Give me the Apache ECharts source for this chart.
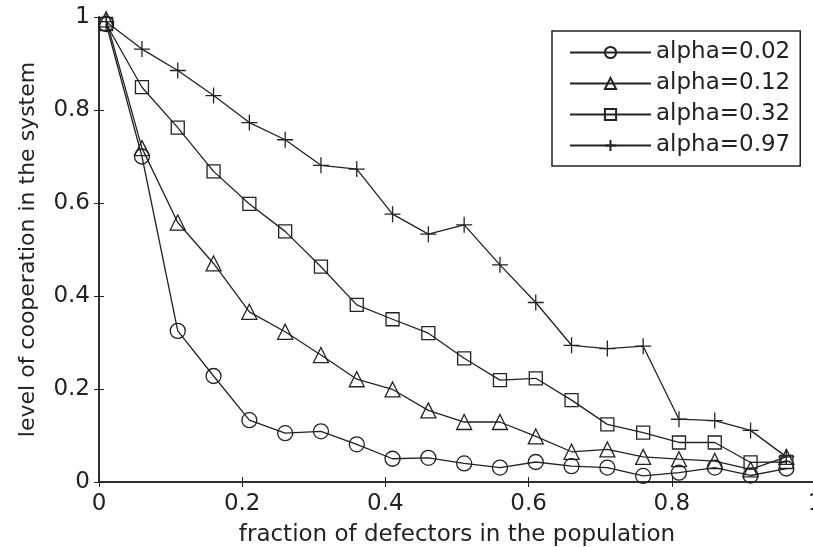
<!DOCTYPE html>
<html>
<head>
<meta charset="utf-8">
<script src="https://cdn.jsdelivr.net/npm/echarts@6/dist/echarts.min.js"></script>
<style>
  html, body { margin: 0; padding: 0; background: #fff; }
  #chart { width: 813px; height: 547px; }
</style>
</head>
<body>
<div id="chart"></div>
<script>
// fraction of defectors (x)
const fractions = [0.01, 0.06, 0.11, 0.16, 0.21, 0.26, 0.31, 0.36, 0.41, 0.46,
  0.51, 0.56, 0.61, 0.66, 0.71, 0.76, 0.81, 0.86, 0.91, 0.96]

const alpha002 = [0.985, 0.700, 0.325, 0.228, 0.133, 0.105, 0.109, 0.081, 0.050, 0.052,
  0.040, 0.031, 0.043, 0.034, 0.031, 0.013, 0.020, 0.031, 0.014, 0.029]
const alpha012 = [0.995, 0.718, 0.558, 0.470, 0.366, 0.323, 0.273, 0.221, 0.199, 0.154,
  0.129, 0.129, 0.098, 0.065, 0.070, 0.054, 0.049, 0.045, 0.027, 0.054]
const alpha032 = [0.985, 0.849, 0.762, 0.668, 0.598, 0.539, 0.463, 0.381, 0.350, 0.320,
  0.266, 0.219, 0.223, 0.176, 0.124, 0.106, 0.085, 0.085, 0.042, 0.043]
const alpha097 = [0.99, 0.931, 0.885, 0.831, 0.773, 0.736, 0.681, 0.673, 0.576, 0.533,
  0.553, 0.467, 0.386, 0.294, 0.287, 0.292, 0.135, 0.132, 0.111, 0.054]

const seriesNames = ['alpha=0.02', 'alpha=0.12', 'alpha=0.32', 'alpha=0.97']

const ink = '#222'
const font = 'DejaVu Sans'
const plusPath = 'path://M0,-10L0,10M-10,0L10,0'

function pairs(ys) {
  return fractions.map((x, i) => [x, ys[i]])
}

function makeSeries(name, ys, symbol, size, lineWidth) {
  return {
    name: name,
    type: 'line',
    data: pairs(ys),
    symbol: symbol,
    symbolSize: size,
    showAllSymbol: true,
    lineStyle: { color: ink, width: lineWidth },
    itemStyle: { color: 'rgba(255,255,255,0)', borderColor: ink, borderWidth: 1.3 },
    emphasis: { disabled: true },
    animation: false
  }
}

const chart = echarts.init(document.getElementById('chart'))

chart.setOption({
  backgroundColor: '#fff',
  textStyle: { fontFamily: font, color: ink },
  grid: { left: 99, top: 17, width: 716, height: 465, outerBoundsMode: 'none', containLabel: false },
  legend: {
    orient: 'vertical',
    left: 552,
    top: 31,
    data: seriesNames,
    itemWidth: 81,
    itemHeight: 14,
    itemGap: 6,
    padding: [9, 10, 8, 17],
    borderColor: ink,
    borderWidth: 1.5,
    backgroundColor: '#fff',
    textStyle: { fontFamily: font, fontSize: 23, color: ink, lineHeight: 25 }
  },
  xAxis: [{
    type: 'value',
    min: 0,
    max: 1,
    interval: 0.2,
    name: 'fraction of defectors in the population',
    nameLocation: 'middle',
    nameGap: 42,
    nameTextStyle: { fontSize: 23, color: ink },
    axisLine: { lineStyle: { color: ink, width: 1.5 } },
    axisTick: { inside: true, length: 5, lineStyle: { color: ink } },
    axisLabel: { fontSize: 23, color: ink, margin: 11 },
    splitLine: { show: false }
  }, {
    type: 'value',
    position: 'top',
    min: 0,
    max: 1,
    interval: 0.2,
    axisLine: { show: true, lineStyle: { color: ink, width: 1.5 } },
    axisTick: { show: true, inside: true, length: 5, lineStyle: { color: ink } },
    axisLabel: { show: false },
    splitLine: { show: false }
  }],
  yAxis: [{
    type: 'value',
    min: 0,
    max: 1,
    interval: 0.2,
    name: 'level of cooperation in the system',
    nameLocation: 'middle',
    nameGap: 60,
    nameTextStyle: { fontSize: 22, color: ink },
    axisLine: { show: true, lineStyle: { color: ink, width: 1.5 } },
    axisTick: { show: true, inside: true, length: 5, lineStyle: { color: ink } },
    axisLabel: { fontSize: 23, color: ink, margin: 9 },
    splitLine: { show: false }
  }, {
    type: 'value',
    position: 'right',
    min: 0,
    max: 1,
    interval: 0.2,
    axisLine: { show: true, lineStyle: { color: ink, width: 1.5 } },
    axisTick: { show: true, inside: true, length: 5, lineStyle: { color: ink } },
    axisLabel: { show: false },
    splitLine: { show: false }
  }],
  series: [
    makeSeries(seriesNames[0], alpha002, 'circle', 15, 1.3),
    makeSeries(seriesNames[1], alpha012, 'triangle', 15, 1.3),
    makeSeries(seriesNames[2], alpha032, 'rect', 13, 1.3),
    makeSeries(seriesNames[3], alpha097, plusPath, 16, 1.3)
  ]
})
</script>
</body>
</html>
